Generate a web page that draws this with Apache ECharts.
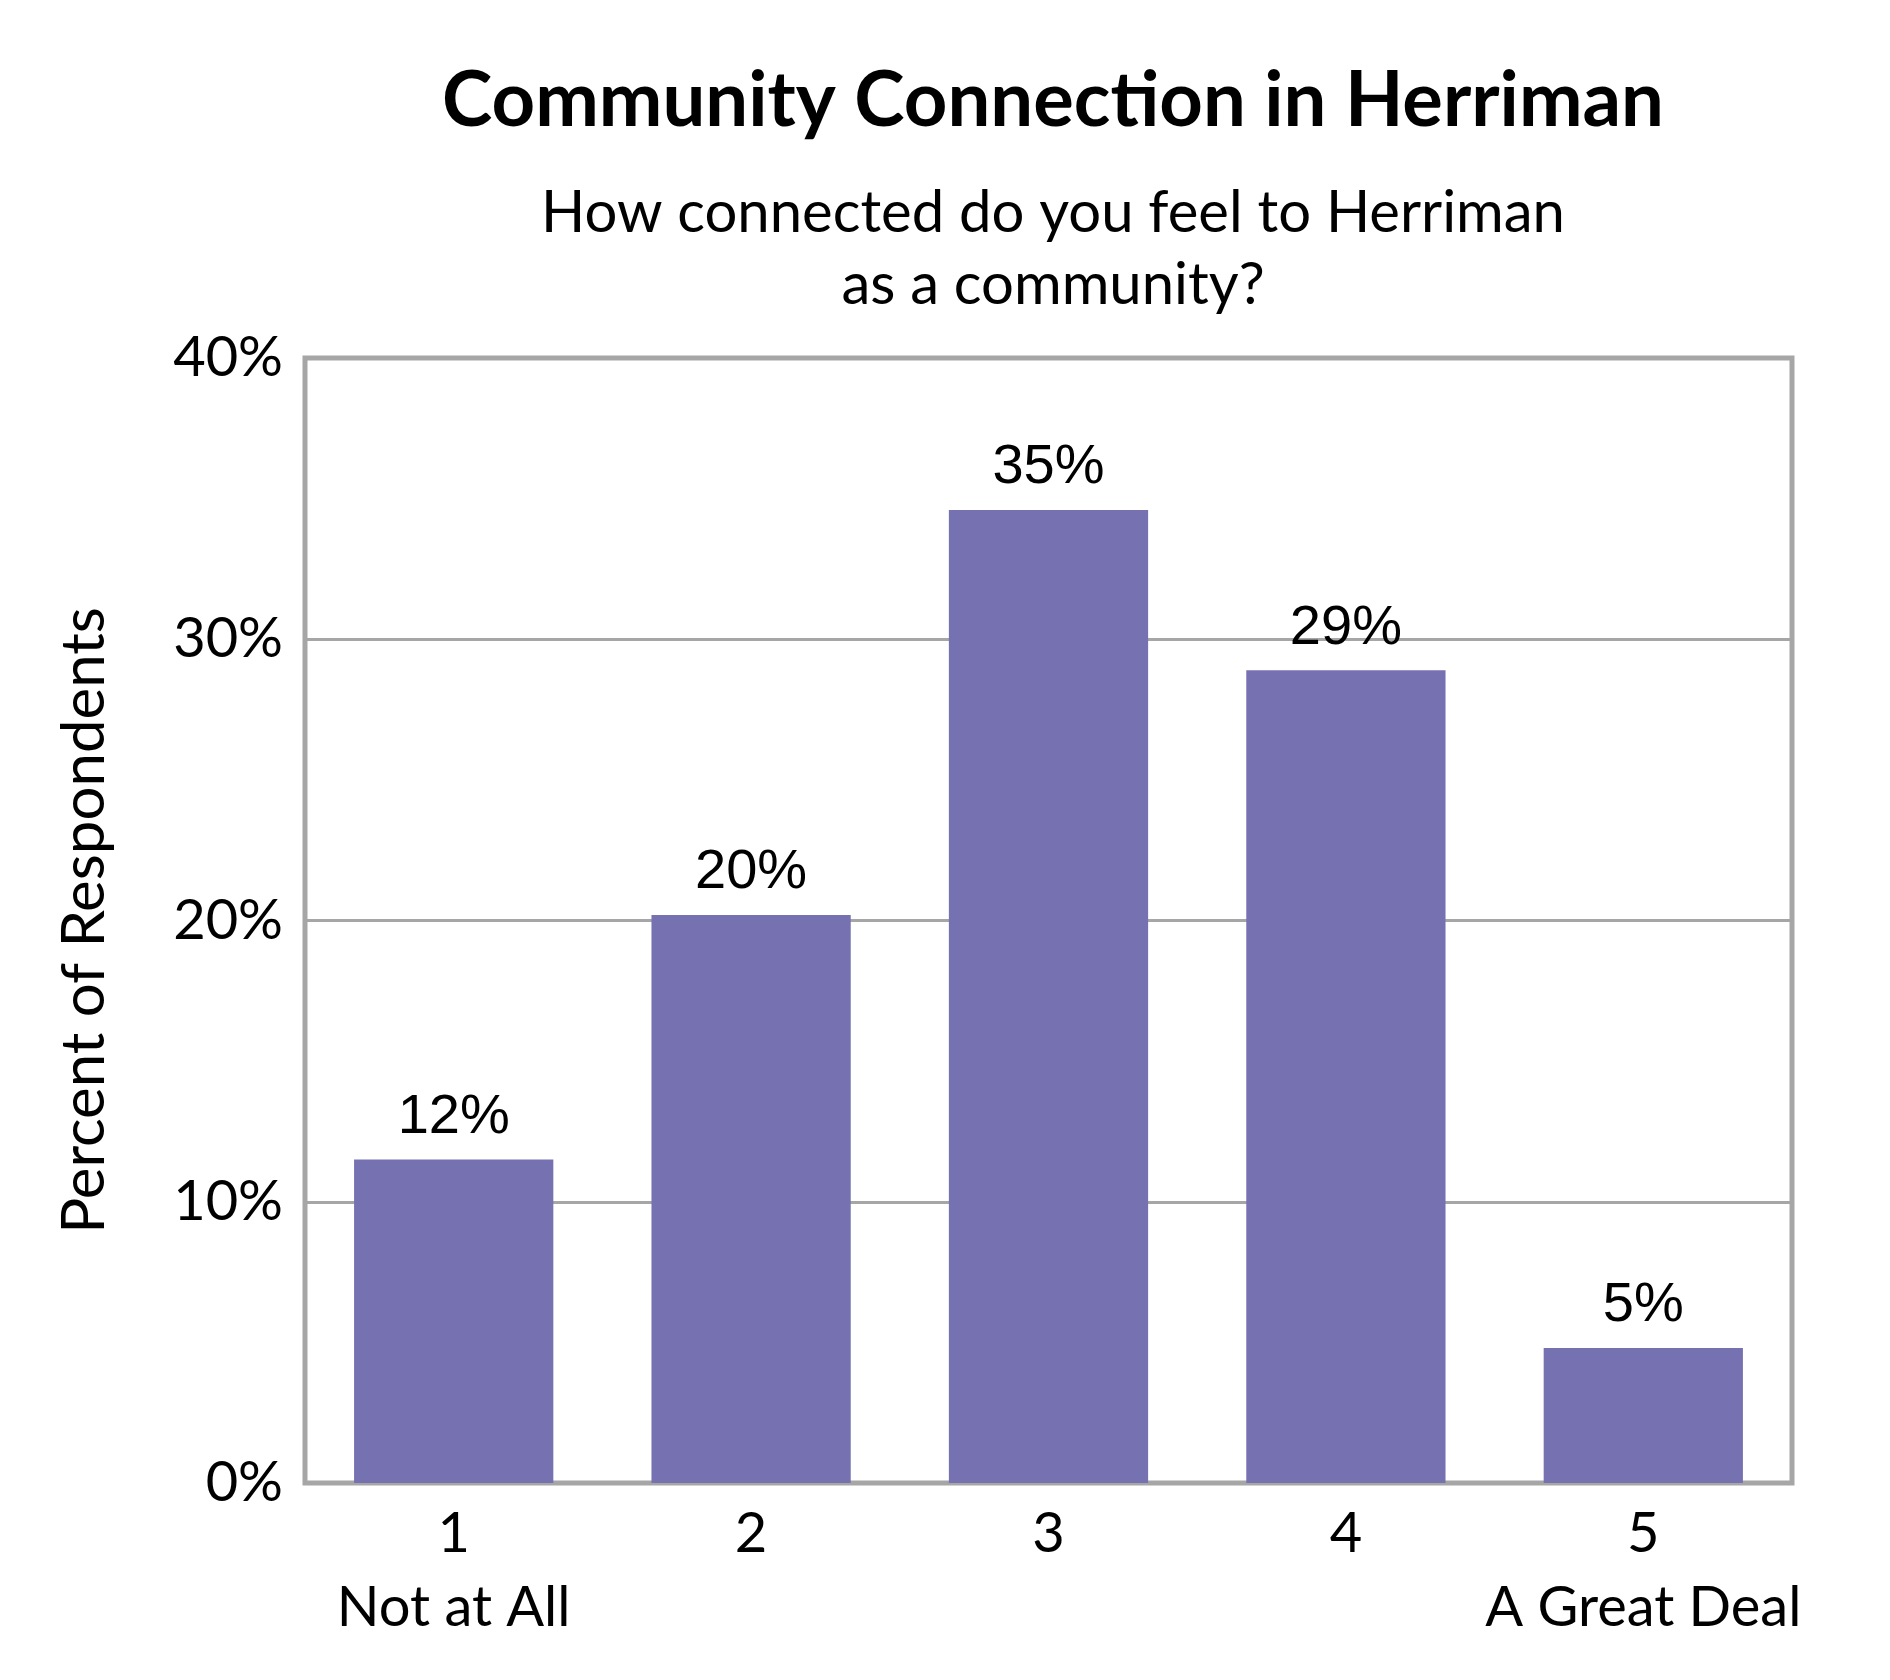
<!DOCTYPE html>
<html><head><meta charset="utf-8">
<script src="https://cdn.jsdelivr.net/npm/echarts@6/dist/echarts.min.js"></script>
<style>html,body{margin:0;background:#fff}#c{width:1890px;height:1680px}</style>
</head><body><div id="c"></div>
<script>
const categories = ["1\nNot at All", "2", "3", "4", "5\nA Great Deal"];
const values = [11.5, 20.2, 34.6, 28.9, 4.8];
const labels = ["12%", "20%", "35%", "29%", "5%"];
const chart = echarts.init(document.getElementById('c'));
const font = "Lato, 'Open Sans', sans-serif";
chart.setOption({
  backgroundColor: '#fff',
  title: [
    {text: 'Community Connection in Herriman', left: 1048, top: 58, textAlign: 'center',
     textStyle: {fontFamily: font, fontSize: 76, fontWeight: 'bold', color: '#000'}},
    {text: 'How connected do you feel to Herriman\nas a community?', left: 1048, top: 172, textAlign: 'center',
     textStyle: {fontFamily: font, fontSize: 58, fontWeight: 'normal', color: '#000', lineHeight: 72}}
  ],
  grid: {left: 305, right: 98, top: 358, bottom: 197, show: true, borderColor: '#a6a6a6', borderWidth: 5},
  xAxis: {type: 'category', data: categories,
    axisLine: {show: false}, axisTick: {show: false},
    axisLabel: {interval: 0, fontFamily: font, fontSize: 56, color: '#000', margin: 14, lineHeight: 74}},
  yAxis: {type: 'value', min: 0, max: 40, interval: 10,
    name: 'Percent of Respondents', nameLocation: 'middle', nameGap: 190, nameRotate: 90,
    nameTextStyle: {fontFamily: font, fontSize: 60, color: '#000'},
    axisLine: {show: false}, axisTick: {show: false},
    axisLabel: {formatter: '{value}%', fontFamily: font, fontSize: 56, color: '#000', margin: 22},
    splitLine: {lineStyle: {color: '#a6a6a6', width: 3}}},
  series: [{type: 'bar', data: values, barCategoryGap: '33%',
    itemStyle: {color: '#7672b1'},
    label: {show: true, position: 'top', distance: 14, formatter: p => labels[p.dataIndex],
      fontFamily: "'Liberation Sans', Arial, sans-serif", fontSize: 56, color: '#000'}}]
});
</script></body></html>
